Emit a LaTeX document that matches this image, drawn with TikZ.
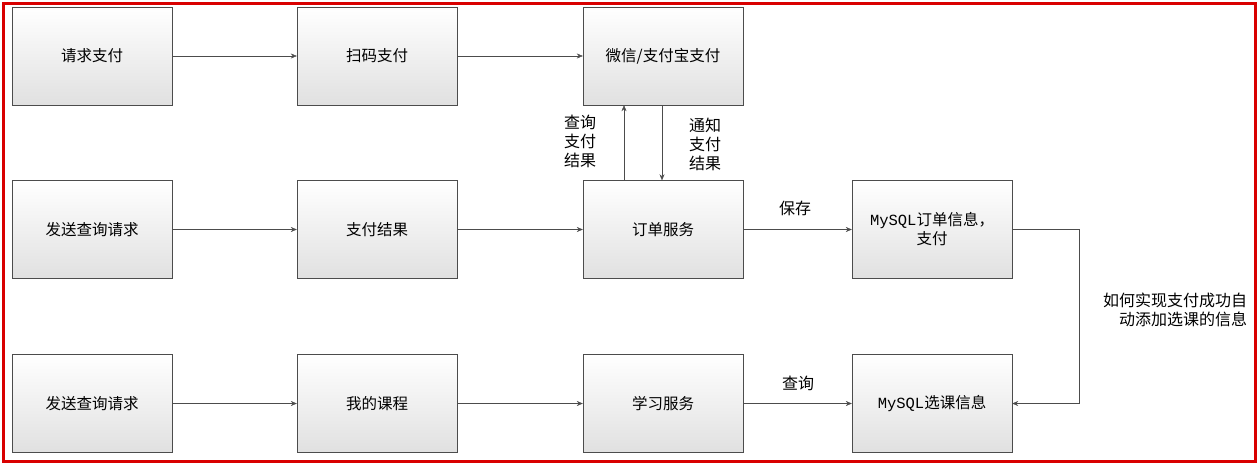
\documentclass[tikz,border=0pt]{standalone}
\usepackage{fontspec}
\setmainfont{Noto Sans CJK SC}
\newfontfamily\monof{Liberation Mono}
\usetikzlibrary{arrows.meta}
\begin{document}
\begin{tikzpicture}[x=1pt,y=-1pt,
  box/.style={draw=black!70,top color=white,bottom color=black!12,minimum width=160pt,minimum height=98pt,inner sep=0pt,font=\fontsize{15.5}{19}\selectfont,align=center},
  arr/.style={draw=black!70,-{Stealth[length=6pt,width=5pt]}},
  lab/.style={font=\fontsize{16}{19}\selectfont,align=center,inner sep=0pt}]
\useasboundingbox (0,0) rectangle (1258,463);
\fill[white] (0,0) rectangle (1258,463);
\node[box] (a1) at (92,56) {请求支付};
\node[box] (a2) at (377,56) {扫码支付};
\node[box] (a3) at (663,56) {微信/支付宝支付};
\node[box] (b1) at (92,229.5) {发送查询请求};
\node[box] (b2) at (377,229.5) {支付结果};
\node[box] (b3) at (663,229.5) {订单服务};
\node[box] (b4) at (932,229.5) {{\monof MySQL}订单信息，\\支付};
\node[box] (c1) at (92,403.5) {发送查询请求};
\node[box] (c2) at (377,403.5) {我的课程};
\node[box] (c3) at (663,403.5) {学习服务};
\node[box] (c4) at (932,403.5) {{\monof MySQL}选课信息};
\draw[arr] (a1) -- (a2); \draw[arr] (a2) -- (a3);
\draw[arr] (b1) -- (b2); \draw[arr] (b2) -- (b3); \draw[arr] (b3) -- (b4);
\draw[arr] (c1) -- (c2); \draw[arr] (c2) -- (c3); \draw[arr] (c3) -- (c4);
\draw[arr] (b3.north -| 624,0) -- (a3.south -| 624,0);
\draw[arr] (a3.south -| 662,0) -- (b3.north -| 662,0);
\coordinate (r1) at (1079,229.5); \coordinate (r2) at (1079,403.5);
\draw[arr] (b4.east) -- (r1) -- (r2) -- (c4.east);
\node[lab] (l1) at (795,208) {保存};
\node[lab] (l2) at (798,383) {查询};
\node[lab] (l3) at (580,141) {查询\\支付\\结果};
\node[lab] (l4) at (705,144) {通知\\支付\\结果};
\node[lab,anchor=west,align=left] (l5) at (1103,310) {如何实现支付成功自\\\phantom{如}动添加选课的信息};
\draw[red!85!black,line width=3pt] (3,3) rectangle (1255,461);
\end{tikzpicture}
\end{document}
